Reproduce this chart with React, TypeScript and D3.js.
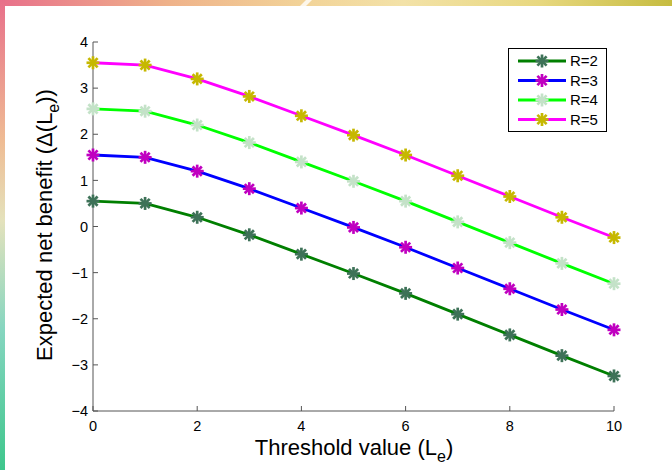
import React from "react";
import * as d3 from "d3";

const thresholds = [0, 1, 2, 3, 4, 5, 6, 7, 8, 9, 10];
const seriesNames = ["R=2", "R=3", "R=4", "R=5"];
const r2 = [0.55, 0.5, 0.2, -0.18, -0.6, -1.02, -1.45, -1.9, -2.35, -2.8, -3.24];
const r3 = [1.55, 1.5, 1.2, 0.82, 0.4, -0.02, -0.45, -0.9, -1.35, -1.8, -2.24];
const r4 = [2.55, 2.5, 2.2, 1.82, 1.4, 0.98, 0.55, 0.1, -0.35, -0.8, -1.24];
const r5 = [3.55, 3.5, 3.2, 2.82, 2.4, 1.98, 1.55, 1.1, 0.65, 0.2, -0.24];
const seriesValues = [r2, r3, r4, r5];
const lineColors = ["#007f00", "#0000ff", "#00ff00", "#ff00ff"];
const markerColors = ["#3e7258", "#c000c0", "#c4e2c8", "#c6b800"];
const xTicks = [0, 2, 4, 6, 8, 10];
const yTicks = [-4, -3, -2, -1, 0, 1, 2, 3, 4];

const W = 672, H = 470;
const left = 93, right = 614, top = 42, bottom = 411;

function Asterisk({ cx, cy, color, r = 6.5 }: { cx: number; cy: number; color: string; r?: number }) {
  const d = r * 0.7071;
  return (
    <g stroke={color} strokeWidth={2.7} strokeLinecap="butt">
      <line x1={cx - r} y1={cy} x2={cx + r} y2={cy} />
      <line x1={cx} y1={cy - r} x2={cx} y2={cy + r} />
      <line x1={cx - d} y1={cy - d} x2={cx + d} y2={cy + d} />
      <line x1={cx - d} y1={cy + d} x2={cx + d} y2={cy - d} />
    </g>
  );
}

export default function App() {
  const x = d3.scaleLinear().domain([0, 10]).range([left, right]);
  const y = d3.scaleLinear().domain([-4, 4]).range([bottom, top]);
  const line = d3
    .line<number>()
    .x((_, i) => x(thresholds[i]))
    .y((v) => y(v));
  const fmt = (v: number) => (v < 0 ? "\u2212" + Math.abs(v) : String(v));
  const font = "'Liberation Sans', Arial, sans-serif";

  return (
    <svg
      width={W}
      height={H}
      style={{ position: "absolute", left: 0, top: 0, display: "block" }}
      fontFamily={font}
    >
      <defs>
        <linearGradient id="topg" x1="0" y1="0" x2="1" y2="0">
          <stop offset="0" stopColor="#e8708a" />
          <stop offset="0.25" stopColor="#efb28a" />
          <stop offset="0.45" stopColor="#f2d398" />
          <stop offset="0.6" stopColor="#f3e2a8" />
          <stop offset="0.8" stopColor="#e8d880" />
          <stop offset="1" stopColor="#c6bc40" />
        </linearGradient>
        <linearGradient id="leftg" x1="0" y1="0" x2="0" y2="1">
          <stop offset="0" stopColor="#e8708a" />
          <stop offset="0.3" stopColor="#efbc94" />
          <stop offset="0.47" stopColor="#e4e2bc" />
          <stop offset="0.7" stopColor="#86d6c0" />
          <stop offset="1" stopColor="#3ec68c" />
        </linearGradient>
      </defs>
      <rect x={0} y={0} width={W} height={H} fill="#ffffff" />
      <rect x={0} y={0} width={W} height={6} fill="url(#topg)" />
      <rect x={0} y={0} width={5} height={H} fill="url(#leftg)" />
      <polygon points="300,6 306,6 312,0 306,0" fill="#ffffff" opacity={0.8} />

      {/* axes */}
      <g stroke="#555" strokeWidth={1} fill="none">
        <line x1={left} y1={top} x2={left} y2={bottom} />
        <line x1={left} y1={bottom} x2={right} y2={bottom} />
        {yTicks.map((t) => (
          <line key={"yt" + t} x1={left} y1={y(t)} x2={left + 5} y2={y(t)} />
        ))}
        {xTicks.map((t) => (
          <line key={"xt" + t} x1={x(t)} y1={bottom} x2={x(t)} y2={bottom - 5} />
        ))}
      </g>
      <g fontSize={14.5} fill="#000">
        {yTicks.map((t) => (
          <text key={"yl" + t} x={left - 5} y={y(t)} dy="0.36em" textAnchor="end">
            {fmt(t)}
          </text>
        ))}
        {xTicks.map((t) => (
          <text key={"xl" + t} x={x(t)} y={bottom + 20} textAnchor="middle">
            {fmt(t)}
          </text>
        ))}
      </g>

      {/* series */}
      {seriesValues.map((vals, si) => (
        <g key={"s" + si}>
          <path d={line(vals) || ""} fill="none" stroke={lineColors[si]} strokeWidth={2.8} />
          {vals.map((v, i) => (
            <Asterisk key={i} cx={x(thresholds[i])} cy={y(v)} color={markerColors[si]} />
          ))}
        </g>
      ))}

      {/* axis labels */}
      <text x={354} y={455} textAnchor="middle" fontSize={22} fill="#000">
        Threshold value (L
        <tspan fontSize={16} dy={7}>e</tspan>
        <tspan dy={-7}>)</tspan>
      </text>
      <text
        transform={`translate(52, 225) rotate(-90)`}
        textAnchor="middle"
        fontSize={22}
        fill="#000"
      >
        Expected net benefit (Δ(L
        <tspan fontSize={16} dy={7}>e</tspan>
        <tspan dy={-7}>))</tspan>
      </text>

      {/* legend */}
      <rect x={508.5} y={48.5} width={98} height={83} fill="#fff" stroke="#000" strokeWidth={1} />
      {seriesNames.map((name, i) => {
        const ly = 61 + i * 19.5;
        return (
          <g key={"lg" + i}>
            <line x1={518} y1={ly} x2={566} y2={ly} stroke={lineColors[i]} strokeWidth={2.8} />
            <Asterisk cx={542} cy={ly} color={markerColors[i]} />
            <text x={570} y={ly} dy="0.36em" fontSize={15} fill="#000">
              {name}
            </text>
          </g>
        );
      })}
    </svg>
  );
}
